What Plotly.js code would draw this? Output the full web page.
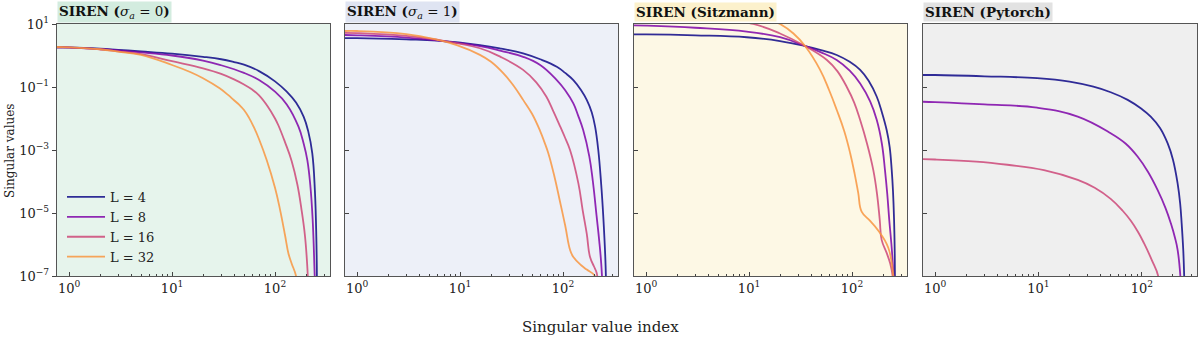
<!DOCTYPE html>
<html>
<head>
<meta charset="utf-8">
<script src="https://cdn.plot.ly/plotly-3.0.1.min.js"></script>
<style>html,body{margin:0;padding:0;background:#fff;}#chart{width:1200px;height:344px;}</style>
</head>
<body>
<div id="chart"></div>
<script>
// ---- data ----
const panelTitles = [
  '<b>SIREN (</b><i>σ<sub>a</sub></i> = 0<b>)</b>',
  '<b>SIREN (</b><i>σ<sub>a</sub></i> = 1<b>)</b>',
  '<b>SIREN (Sitzmann)</b>',
  '<b>SIREN (Pytorch)</b>'
];
const seriesNames = ['L = 4', 'L = 8', 'L = 16', 'L = 32'];
const xTickVals = [1, 10, 100];
const xTickText = ['10<sup>0</sup>', '10<sup>1</sup>', '10<sup>2</sup>'];
const xMinorVals = [2,3,4,5,6,7,8,9,20,30,40,50,60,70,80,90,200,300];
const yTickVals = [10, 0.1, 1e-3, 1e-5, 1e-7];
const yTickText = ['10<sup>1</sup>', '10<sup>−1</sup>', '10<sup>−3</sup>', '10<sup>−5</sup>', '10<sup>−7</sup>'];

// Panel 1: SIREN (sigma_a = 0)
const p1_L4_x  = [0.76,1,2,3,5,10,20,30,40,50,70,100,130,160,190,210,230,244,252,256];
const p1_L4_y  = [1.82,1.82,1.66,1.51,1.35,1.15,0.91,0.76,0.62,0.51,0.32,0.151,0.071,0.032,0.0112,3.98e-3,7.9e-4,5.0e-5,1.6e-6,2.5e-8];
const p1_L8_x  = [0.76,1,2,3,5,10,20,30,50,70,100,130,169,190,206,220,232,243,247];
const p1_L8_y  = [1.82,1.78,1.58,1.45,1.26,1.0,0.69,0.49,0.28,0.166,0.071,0.028,5.5e-3,1.58e-3,4.8e-4,7.9e-5,6.3e-6,1e-7,2.5e-8];
const p1_L16_x = [0.76,1,2,3,5,10,20,30,40,50,60,70,85,100,108,125,145,165,181,195,205,212];
const p1_L16_y = [1.82,1.82,1.58,1.35,1.10,0.66,0.39,0.26,0.174,0.12,0.083,0.054,0.024,0.01,6.0e-3,1.78e-3,4.5e-4,7.9e-5,1.26e-5,2.0e-6,2.5e-7,2.5e-8];
const p1_L32_x = [0.76,1,2,3,5,10,15,20,29,35,40,45,50,56,62,70,83,100,112,125,135,145,160,165];
const p1_L32_y = [1.86,1.82,1.58,1.32,1.05,0.5,0.30,0.19,0.091,0.056,0.038,0.027,0.0186,0.0105,5.5e-3,2.2e-3,4.8e-4,6.3e-5,1.26e-5,2.0e-6,5.2e-7,2.5e-7,1e-7,2.5e-8];

// Panel 2: SIREN (sigma_a = 1)
const p2_L4_x  = [0.76,1,3,6,15.6,25,41,60,87,105,126,150,170,190,205,220,235,246,258,263];
const p2_L4_y  = [3.55,3.55,3.24,2.95,2.14,1.66,1.17,0.76,0.44,0.28,0.166,0.079,0.039,0.0158,5.5e-3,1e-3,7.9e-5,7.9e-6,3.2e-7,2.5e-8];
const p2_L8_x  = [0.76,1,3,6,15.6,25,41,60,87,105,126,140,157,180,195,212,225,235,244];
const p2_L8_y  = [4.47,4.37,3.72,3.02,2.0,1.41,0.91,0.5,0.166,0.079,0.030,0.0126,4.3e-3,6.3e-4,1e-4,7.9e-6,1.26e-6,2.5e-7,2.5e-8];
const p2_L16_x = [0.76,1,3,6,15.6,25,41,55,69,80,94,105,117,141,155,170,183,200,212,224];
const p2_L16_y = [5.25,5.13,4.17,3.16,1.7,0.89,0.35,0.141,0.049,0.0178,5.5e-3,2.4e-3,1e-3,8.7e-5,1.26e-5,2.2e-6,4e-7,2.0e-7,1.26e-7,2.5e-8];
const p2_L32_x = [0.76,1,3,6,9.3,15.6,20,26.4,33,41,50,60,66,72,82,93,105,117,126,150,170,204,210];
const p2_L32_y = [6.0,6.0,4.8,3.16,2.14,1.05,0.63,0.27,0.112,0.039,0.0141,4.0e-3,1.78e-3,7.9e-4,1.58e-4,2.5e-5,4.0e-6,6.8e-7,4e-7,2.2e-7,1.6e-7,1e-7,2.5e-8];

// Panel 3: SIREN (Sitzmann)
const p3_L4_x  = [0.76,1,3,9.5,20,35,50,71,95,120,145,174,195,217,232,243,250,256,260,262];
const p3_L4_y  = [4.68,4.68,4.37,3.8,2.88,2.0,1.48,1.04,0.63,0.35,0.158,0.049,0.0158,4.3e-3,1.26e-3,2.3e-4,5.0e-5,6.3e-6,5.0e-7,2.5e-8];
const p3_L8_x  = [0.76,1,3,9.5,20,35,50,71,95,120,150,174,195,209,220,230,245,258];
const p3_L8_y  = [9.1,8.9,7.6,5.75,3.8,2.0,1.26,0.72,0.33,0.13,0.035,8.9e-3,1.58e-3,2.3e-4,4.0e-5,6e-6,5.4e-7,2.5e-8];
const p3_L16_x = [0.76,1,3,11,20,35,57,72,89,105,120,140,161,175,186,194,217,235,248,252];
const p3_L16_y = [25,24,17.8,10,5.0,2.0,0.72,0.32,0.10,0.032,8.9e-3,1.58e-3,2.3e-4,4e-5,6e-6,1.4e-6,5.4e-7,2.5e-7,1e-7,2.5e-8];
const p3_L32_x = [0.76,1,3,10,20,27,35,49,60,71,84,96,106,115,124,150,178,225,252,257];
const p3_L32_y = [75,70,50,25,10,5.0,2.0,0.35,0.079,0.019,4.0e-3,7.9e-4,1.78e-4,4.3e-5,1.1e-5,5.6e-6,2.9e-6,7.9e-7,1e-7,2.5e-8];

// Panel 4: SIREN (Pytorch)
const p4_L4_x  = [0.76,1,3,9.7,20,34,50,73,100,122,150,178,200,222,235,243,252,257,260];
const p4_L4_y  = [0.24,0.24,0.219,0.19,0.148,0.102,0.068,0.039,0.02,0.0115,5.0e-3,1.62e-3,5.0e-4,8.7e-5,2.0e-5,4.7e-6,6.3e-7,1e-7,2.5e-8];
const p4_L8_x  = [0.76,1,3,9.7,24,50,70,91,115,142,170,191,210,222,236,240];
const p4_L8_y  = [0.034,0.033,0.028,0.022,0.0115,3.4e-3,1.58e-3,6.2e-4,2.0e-4,5.4e-5,1.41e-5,4.7e-6,1.58e-6,6.8e-7,1e-7,2.5e-8];
const p4_L16_x = [0.76,1,2.5,5,11.3,24,35,50,65,78,92,105,125,144,148];
const p4_L16_y = [5.1e-4,5.0e-4,4.3e-4,3.4e-4,2.3e-4,1.12e-4,6.3e-5,2.8e-5,1.2e-5,5.75e-6,2.5e-6,1.1e-6,3.2e-7,1e-7,2.5e-8];

// ---- styling ----
const W = 1200, H = 344;
const colors = ['#0d0887', '#7e03a8', '#cc4778', '#f89540'];
const panelBg = ['#e6f4ec', '#edf0f8', '#fdf8e5', '#efefef'];
const titleBg = ['#d3ecdf', '#dfe4f2', '#fcf1cc', '#e2e2e2'];
const panelPx = [[57,330],[345,618],[634,907],[923,1197]];
const plotTop = 24, plotBottom = 276;
const serif = 'DejaVu Serif, Liberation Serif, serif';

const panels = [
  [[p1_L4_x,p1_L4_y],[p1_L8_x,p1_L8_y],[p1_L16_x,p1_L16_y],[p1_L32_x,p1_L32_y]],
  [[p2_L4_x,p2_L4_y],[p2_L8_x,p2_L8_y],[p2_L16_x,p2_L16_y],[p2_L32_x,p2_L32_y]],
  [[p3_L4_x,p3_L4_y],[p3_L8_x,p3_L8_y],[p3_L16_x,p3_L16_y],[p3_L32_x,p3_L32_y]],
  [[p4_L4_x,p4_L4_y],[p4_L8_x,p4_L8_y],[p4_L16_x,p4_L16_y]]
];

const traces = [];
const layout = {
  width: W, height: H,
  margin: {l:0, r:0, t:0, b:0},
  paper_bgcolor: '#ffffff',
  plot_bgcolor: 'rgba(0,0,0,0)',
  showlegend: true,
  legend: {
    x: 62/W, y: 1 - 182/H, xanchor: 'left', yanchor: 'top',
    bgcolor: 'rgba(0,0,0,0)', borderwidth: 0,
    font: {family: serif, size: 13, color: '#222'},
    itemwidth: 38, tracegroupgap: 0
  },
  shapes: [],
  annotations: []
};

panels.forEach((series, i) => {
  const xa = i === 0 ? 'x' : 'x' + (i+1);
  const ya = i === 0 ? 'y' : 'y' + (i+1);
  series.forEach((s, j) => {
    traces.push({
      type: 'scatter', mode: 'lines',
      x: s[0], y: s[1],
      xaxis: xa, yaxis: ya,
      name: seriesNames[j],
      legendgroup: seriesNames[j],
      showlegend: i === 0,
      opacity: 0.85,
      line: {color: colors[j], width: 1.8, shape: 'spline', smoothing: 1.2},
      hoverinfo: 'skip'
    });
  });
  const axX = {
    domain: [panelPx[i][0]/W, panelPx[i][1]/W],
    anchor: ya, type: 'log', range: [-0.117, 2.534],
    showgrid: false, zeroline: false,
    showline: true, mirror: true, linecolor: '#555', linewidth: 1.3,
    ticks: 'inside', ticklen: 4, tickwidth: 1, tickcolor: '#444',
    tickvals: xTickVals, ticktext: xTickText,
    tickfont: {family: serif, size: 13, color: '#222'},
    minor: {ticks: 'inside', ticklen: 2.5, tickwidth: 1, tickcolor: '#444', tickvals: xMinorVals, showgrid: false}
  };
  const axY = {
    domain: [1 - plotBottom/H, 1 - plotTop/H],
    anchor: xa, type: 'log', range: [-7, 1],
    showgrid: false, zeroline: false,
    showline: true, mirror: true, linecolor: '#555', linewidth: 1.3,
    ticks: i === 0 ? 'outside' : 'inside', ticklen: 4, tickwidth: 1, tickcolor: '#444',
    tickvals: yTickVals, ticktext: yTickText,
    showticklabels: i === 0,
    tickfont: {family: serif, size: 13, color: '#222'}
  };
  layout[i === 0 ? 'xaxis' : 'xaxis' + (i+1)] = axX;
  layout[i === 0 ? 'yaxis' : 'yaxis' + (i+1)] = axY;
  layout.shapes.push({
    type: 'rect', xref: xa + ' domain', yref: ya + ' domain',
    x0: 0, x1: 1, y0: 0, y1: 1, layer: 'below',
    fillcolor: panelBg[i], line: {width: 0}
  });
  layout.annotations.push({
    xref: 'paper', yref: 'paper',
    x: panelPx[i][0]/W, y: 1 - 12/H, xanchor: 'left', yanchor: 'middle',
    text: panelTitles[i], showarrow: false,
    bgcolor: titleBg[i], borderpad: 1,
    font: {family: serif, size: 13.5, color: '#111'}
  });
});

layout.annotations.push({
  xref: 'paper', yref: 'paper', x: 600/W, y: 1 - 327/H,
  xanchor: 'center', yanchor: 'middle', showarrow: false,
  text: 'Singular value index',
  font: {family: serif, size: 15, color: '#222'}
});
layout.annotations.push({
  xref: 'paper', yref: 'paper', x: 10/W, y: 1 - 151/H,
  xanchor: 'center', yanchor: 'middle', showarrow: false, textangle: -90,
  text: 'Singular values',
  font: {family: serif, size: 12, color: '#222'}
});

Plotly.newPlot('chart', traces, layout, {staticPlot: true, displayModeBar: false});
</script>
</body>
</html>
